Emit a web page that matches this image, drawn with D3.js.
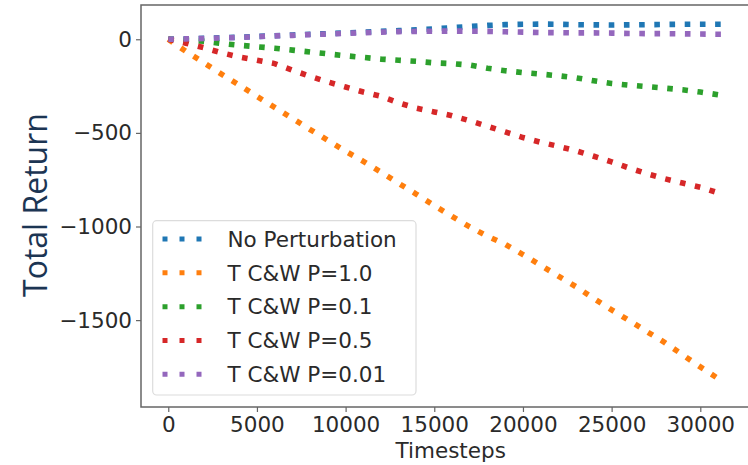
<!DOCTYPE html>
<html>
<head>
<meta charset="utf-8">
<script src="https://cdn.jsdelivr.net/npm/d3@7/dist/d3.min.js"></script>
<style>
  html, body { margin: 0; padding: 0; background: #fff; }
  svg { display: block; }
</style>
</head>
<body>
<svg id="chart" width="748" height="465"></svg>
<script>
// Shared timestep grid for every run
const timesteps = [0, 1000, 2000, 3000, 4000, 5000, 6000, 7000, 8000, 9000, 10000,
  11000, 12000, 13000, 14000, 15000, 16000, 17000, 18000, 19000, 20000,
  21000, 22000, 23000, 24000, 25000, 26000, 27000, 28000, 29000, 30000, 31000, 31300];

const noPerturbation = [0, 2, 5, 8, 11, 15, 19, 23, 27, 30, 34,
  38, 42, 46, 50, 56, 62, 68, 74, 78, 80,
  81, 80, 78, 77, 76, 77, 78, 79, 80, 80, 80, 80];

const cwP10 = [0, -65, -125, -186, -245, -305, -364, -423, -482, -540, -598,
  -652, -710, -770, -828, -888, -946, -1002, -1052, -1095, -1150,
  -1207, -1265, -1322, -1385, -1445, -1503, -1562, -1620, -1685, -1750, -1812, -1834];

const cwP01 = [0, -5, -11, -22, -32, -40, -48, -58, -68, -78, -88,
  -97, -106, -112, -118, -126, -130, -138, -155, -168, -178,
  -186, -195, -206, -222, -236, -245, -253, -261, -270, -282, -296, -303];

const cwP05 = [0, -21, -45, -72, -95, -112, -130, -165, -198, -228, -255,
  -282, -305, -340, -368, -388, -408, -435, -465, -495, -525,
  -550, -572, -596, -625, -655, -688, -718, -745, -768, -790, -820, -832];

const cwP001 = [0, 2, 4, 7, 10, 14, 18, 21, 25, 28, 32,
  35, 38, 41, 42, 43, 44, 43, 42, 40, 38,
  36, 35, 34, 34, 33, 31, 30, 30, 29, 28, 27, 27];

const seriesNames = ["No Perturbation", "T C&W P=1.0", "T C&W P=0.1", "T C&W P=0.5", "T C&W P=0.01"];
const seriesValues = [noPerturbation, cwP10, cwP01, cwP05, cwP001];
const seriesColors = ["#1f77b4", "#ff7f0e", "#2ca02c", "#d62728", "#9467bd"];

const xTicks = [0, 5000, 10000, 15000, 20000, 25000, 30000];
const yTicks = [0, -500, -1000, -1500];

const svg = d3.select("#chart");
const frame = { left: 141, top: 5, right: 753, bottom: 407 };

const x = d3.scaleLinear().domain([-1560, 33000]).range([140.6, 753.5]);
const y = d3.scaleLinear().domain([-1964, 183]).range([407, 5]);

const tickFont = "'DejaVu Sans', sans-serif";
const fontSize = 21.5;
const textColor = "#2a2a2a";

// Dotted return curves
const line = d3.line()
  .x((d, i) => x(timesteps[i]))
  .y(d => y(d));

const plot = svg.append("g");
seriesValues.forEach((vals, k) => {
  plot.append("path")
    .datum(vals)
    .attr("d", line)
    .attr("fill", "none")
    .attr("stroke", seriesColors[k])
    .attr("stroke-width", 5.6)
    .attr("stroke-dasharray", "5.6,9.6")
    .attr("stroke-linecap", "butt");
});

// Frame
svg.append("rect")
  .attr("x", frame.left).attr("y", frame.top)
  .attr("width", frame.right - frame.left)
  .attr("height", frame.bottom - frame.top)
  .attr("fill", "none")
  .attr("stroke", "#666")
  .attr("stroke-width", 1.5);

// Axes
const xAxis = d3.axisBottom(x).tickValues(xTicks).tickSize(5).tickPadding(5)
  .tickFormat(d => String(d));
const gx = svg.append("g").attr("transform", `translate(0,${frame.bottom})`).call(xAxis);
gx.select(".domain").remove();
gx.selectAll(".tick line").attr("stroke", "#666").attr("stroke-width", 1.2);
gx.selectAll(".tick text")
  .attr("font-family", tickFont).attr("font-size", fontSize).attr("fill", textColor);

const yAxis = d3.axisLeft(y).tickValues(yTicks).tickSize(5).tickPadding(4)
  .tickFormat(d => d < 0 ? "\u2212" + Math.abs(d) : String(d));
const gy = svg.append("g").attr("transform", `translate(${frame.left},0)`).call(yAxis);
gy.select(".domain").remove();
gy.selectAll(".tick line").attr("stroke", "#666").attr("stroke-width", 1.2);
gy.selectAll(".tick text")
  .attr("font-family", tickFont).attr("font-size", fontSize).attr("fill", textColor);

// Axis titles
svg.append("text")
  .attr("x", 450.7).attr("y", 457.5)
  .attr("text-anchor", "middle")
  .attr("font-family", tickFont).attr("font-size", fontSize).attr("fill", textColor)
  .text("Timesteps");

svg.append("text")
  .attr("transform", "translate(47,205) rotate(-90)")
  .attr("text-anchor", "middle")
  .attr("font-family", "'Open Sans', sans-serif").attr("font-size", 32)
  .attr("fill", "#1c3553")
  .text("Total Return");

// Legend
const legend = svg.append("g");
legend.append("rect")
  .attr("x", 152.7).attr("y", 220.7)
  .attr("width", 263.3).attr("height", 174.3)
  .attr("rx", 4)
  .attr("fill", "#fff").attr("fill-opacity", 0.85)
  .attr("stroke", "#dcdcdc").attr("stroke-width", 1.2);

const rowY = d3.scaleLinear().domain([0, 4]).range([239, 374.3]);
seriesNames.forEach((name, k) => {
  const cy = rowY(k);
  legend.append("line")
    .attr("x1", 162.5).attr("x2", 201.5)
    .attr("y1", cy).attr("y2", cy)
    .attr("stroke", seriesColors[k])
    .attr("stroke-width", 5)
    .attr("stroke-dasharray", "5,12");
  legend.append("text")
    .attr("x", 227.5).attr("y", cy + 7.8)
    .attr("font-family", tickFont).attr("font-size", fontSize).attr("fill", textColor)
    .text(name);
});
</script>
</body>
</html>
